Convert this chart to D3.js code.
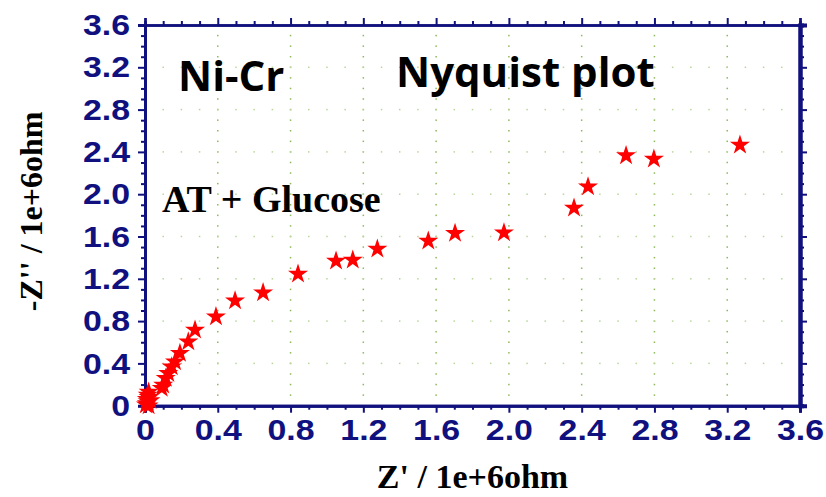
<!DOCTYPE html>
<html>
<head>
<meta charset="utf-8">
<script src="https://cdn.jsdelivr.net/npm/d3@7"></script>
<style>
  html, body { margin: 0; padding: 0; background: #fff; }
  svg { display: block; }
</style>
</head>
<body>
<svg id="chart" width="826" height="497"></svg>
<script>
// ---- data ----
const zReal = [0.005, 0.010, 0.015, 0.020, 0.010, 0.020, 0.015, 0.020, 0.030,
  0.092, 0.100, 0.114, 0.128, 0.147, 0.165, 0.192, 0.238, 0.275, 0.390, 0.495,
  0.649, 0.841, 1.050, 1.142, 1.277, 1.557, 1.704, 1.973, 2.358, 2.435, 2.644,
  2.797, 3.270];
const zImag = [0.010, 0.020, 0.040, 0.000, 0.060, 0.080, 0.100, 0.130, 0.050,
  0.165, 0.196, 0.259, 0.306, 0.369, 0.416, 0.496, 0.605, 0.716, 0.842, 0.993,
  1.069, 1.245, 1.368, 1.378, 1.482, 1.557, 1.630, 1.636, 1.870, 2.070, 2.365,
  2.333, 2.465];
const xTicks = [0, 0.4, 0.8, 1.2, 1.6, 2.0, 2.4, 2.8, 3.2, 3.6];
const yTicks = [0, 0.4, 0.8, 1.2, 1.6, 2.0, 2.4, 2.8, 3.2, 3.6];
const xTickLabels = ["0", "0.4", "0.8", "1.2", "1.6", "2.0", "2.4", "2.8", "3.2", "3.6"];
const yTickLabels = ["0", "0.4", "0.8", "1.2", "1.6", "2.0", "2.4", "2.8", "3.2", "3.6"];
const minorTicks = d3.range(0, 36.5, 1).map(d => d / 10);
const xTitle = "Z' / 1e+6ohm";
const yTitle = "-Z'' / 1e+6ohm";
const titleLeft = "Ni-Cr";
const titleRight = "Nyquist plot";
const sampleLabel = "AT + Glucose";

// ---- layout ----
const svg = d3.select("#chart");
const L = 145, R = 800, T = 25, B = 405.7;
const navy = "#10107e";
const x = d3.scaleLinear().domain([0, 3.6]).range([L, R]);
const y = d3.scaleLinear().domain([0, 3.6]).range([B, T]);

// grid: dotted
const grid = svg.append("g");
const minorInner = minorTicks.filter(v => v > 0 && v < 3.6);
xTicks.filter(v => v > 0 && v < 3.6).forEach(xv => {
  minorInner.forEach(yv => {
    grid.append("rect").attr("x", x(xv) - 0.75).attr("y", y(yv) - 0.75)
      .attr("width", 1.5).attr("height", 1.5).attr("fill", "#8cb85a");
  });
});
yTicks.filter(v => v > 0 && v < 3.6).forEach(yv => {
  minorInner.forEach(xv => {
    grid.append("rect").attr("x", x(xv) - 0.75).attr("y", y(yv) - 0.75)
      .attr("width", 1.5).attr("height", 1.5).attr("fill", "#b9d69a");
  });
});

// axes
const major = new Set(xTicks.map(v => Math.round(v * 10)));
const minorOnly = minorTicks.filter(v => !major.has(Math.round(v * 10)));

function addAxis(axisFn, scale, transform, ticksMajor, ticksMinor, showLabels, labels, width) {
  const gMin = svg.append("g").attr("transform", transform)
    .call(axisFn(scale).tickValues(ticksMinor).tickSize(4).tickFormat(""));
  const gMaj = svg.append("g").attr("transform", transform)
    .call(axisFn(scale).tickValues(ticksMajor).tickSize(7).tickPadding(6)
      .tickFormat((d, i) => showLabels ? labels[i] : ""));
  [gMin, gMaj].forEach(g => {
    g.selectAll(".domain").attr("stroke", navy).attr("stroke-width", width);
    g.selectAll(".tick line").attr("stroke", navy).attr("stroke-width", 2);
  });
  gMaj.selectAll("text").attr("fill", navy)
    .style("font-family", "'Liberation Sans', Arial, sans-serif")
    .style("font-weight", "bold").style("font-size", "30px");
  return gMaj;
}
const gx = addAxis(d3.axisBottom, x, `translate(0,${B})`, xTicks, minorOnly, true, xTickLabels, 3);
addAxis(d3.axisTop, x, `translate(0,${T})`, xTicks, minorOnly, false, xTickLabels, 2.5);
const gy = addAxis(d3.axisLeft, y, `translate(${L},0)`, yTicks, minorOnly, true, yTickLabels, 3);
addAxis(d3.axisRight, y, `translate(${R},0)`, yTicks, minorOnly, false, yTickLabels, 4);
// widen tick labels horizontally to match the reference lettering
gx.selectAll("text").attr("dy", "0.72em").attr("y", 13)
  .attr("transform", "scale(1.13,1)");
gy.selectAll("text").attr("x", -14 / 1.13)
  .attr("transform", "translate(-1,0) scale(1.13,1)");

// data markers
svg.append("g").selectAll("path")
  .data(zReal.map((v, i) => [v, zImag[i]]))
  .join("path")
  .attr("transform", d => `translate(${x(d[0])},${y(d[1])})`)
  .attr("d", d3.symbol(d3.symbolStar, 125))
  .attr("fill", "#ff0000");

// axis titles
svg.append("text").attr("x", (L + R) / 2).attr("y", 488)
  .attr("text-anchor", "middle")
  .style("font-family", "'Liberation Serif', 'Times New Roman', serif")
  .style("font-weight", "bold").style("font-size", "34px").attr("fill", "#000")
  .text(xTitle);
svg.append("text").attr("transform", `translate(42,${(T + B) / 2 - 4}) rotate(-90)`)
  .attr("text-anchor", "middle")
  .style("font-family", "'Liberation Serif', 'Times New Roman', serif")
  .style("font-weight", "bold").style("font-size", "32px").attr("fill", "#000")
  .text(yTitle);

// annotations
svg.append("text").attr("x", 178).attr("y", 91)
  .style("font-family", "'Open Sans', sans-serif")
  .style("font-weight", "bold").style("font-size", "42px").attr("fill", "#000")
  .text(titleLeft);
svg.append("text").attr("x", 396).attr("y", 87)
  .style("font-family", "'Open Sans', sans-serif")
  .style("font-weight", "bold").style("font-size", "42px").attr("fill", "#000")
  .text(titleRight);
svg.append("text").attr("x", 162).attr("y", 212)
  .style("font-family", "'Liberation Serif', 'Times New Roman', serif")
  .style("font-weight", "bold").style("font-size", "38px").attr("fill", "#000")
  .text(sampleLabel);
</script>
</body>
</html>
